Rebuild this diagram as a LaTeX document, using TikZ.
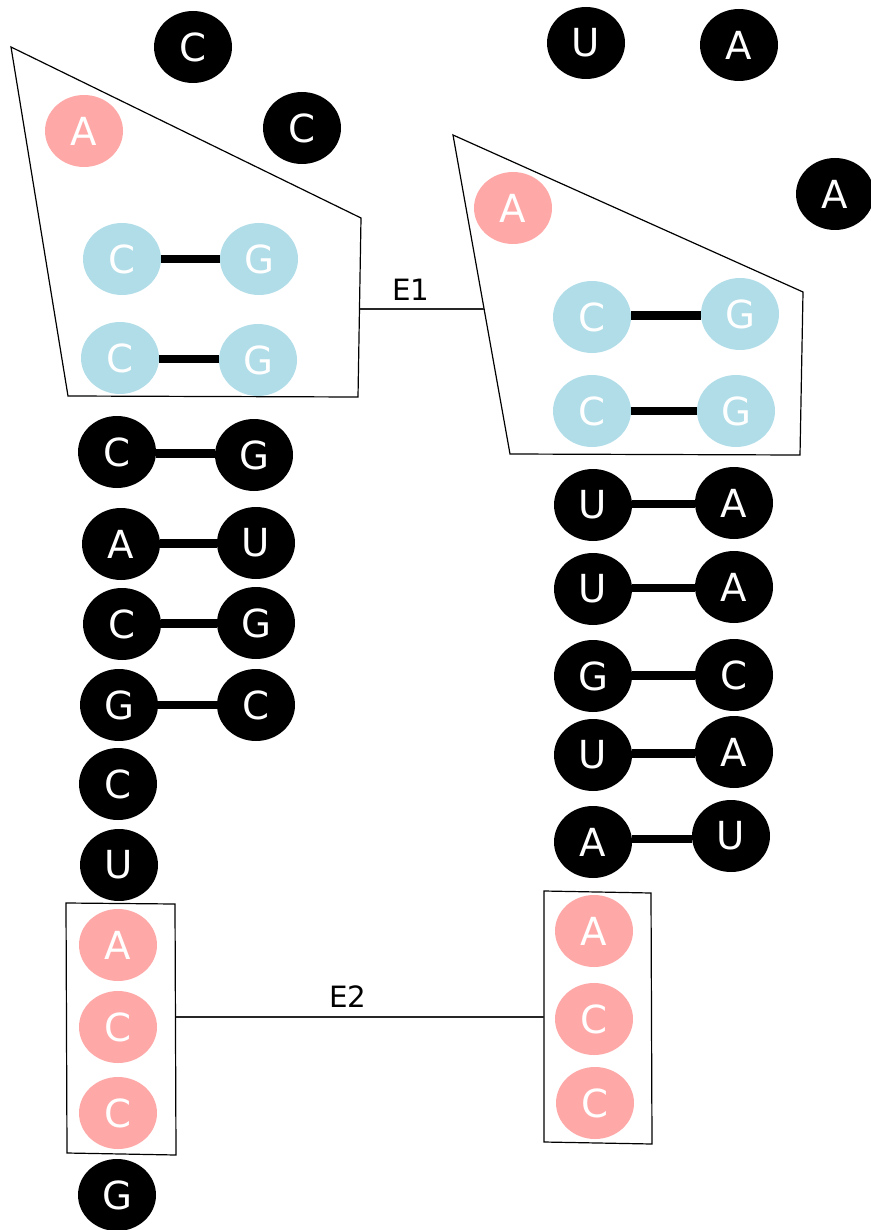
\documentclass[tikz,border=0pt]{standalone}
\usepackage{fontspec}
\setmainfont{DejaVu Sans}
\usetikzlibrary{shapes.geometric,calc}
\definecolor{pinkn}{RGB}{255,168,168}
\definecolor{bluen}{RGB}{176,221,232}
\tikzset{
  base/.style={ellipse, minimum width=58.5pt, minimum height=54pt, inner sep=0pt, text=white, font=\fontsize{29}{31}\selectfont},
  blk/.style={base, fill=black},
  pnk/.style={base, fill=pinkn},
  blu/.style={base, fill=bluen},
  bar/.style={line width=6.5pt},
  frame/.style={line width=0.9pt, line join=miter},
  link/.style={line width=0.8pt, draw=black!85},
  lab/.style={font=\fontsize{22}{24}\selectfont, text=black}
}
\newcommand\pairbar[2]{%
  \coordinate (pbm) at ($(#1)!0.5!(#2)$);
  \draw[bar] (#1.east |- pbm) -- (#2.west |- pbm);}
\begin{document}
\begin{tikzpicture}[x=0.75pt, y=-0.75pt]
\useasboundingbox (0,0) rectangle (870,1230);
% frames
\draw[frame] (11,47) -- (361,218) -- (358,397) -- (68,396) -- cycle;
\draw[frame] (453,135) -- (803,292) -- (800,455) -- (510,454) -- cycle;
\draw[frame] (66,903) -- (175,904) -- (176,1155) -- (67,1153) -- cycle;
\draw[frame] (544,891) -- (651,893) -- (652,1144) -- (544,1142) -- cycle;
% top free nodes
\node[blk] (c1) at (193,47) {C};
\node[blk] (c2) at (302,128) {C};
\node[pnk] (a1) at (84,131) {A};
\node[blk] (u1) at (586,43) {U};
\node[blk] (a2) at (739,45) {A};
\node[blk] (a3) at (835,194) {A};
% left frame pairs
\node[blu] (lc1) at (122,259) {C};
\node[blu] (lg1) at (259,259) {G};
\node[blu] (lc2) at (120,358) {C};
\node[blu] (lg2) at (258,360) {G};
\pairbar{lc1}{lg1}
\pairbar{lc2}{lg2}
% right frame
\node[pnk] (ra) at (513,208) {A};
\node[blu] (rc1) at (592,317) {C};
\node[blu] (rg1) at (740,314) {G};
\node[blu] (rc2) at (592,411) {C};
\node[blu] (rg2) at (736,411) {G};
\pairbar{rc1}{rg1}
\pairbar{rc2}{rg2}
% left stem
\node[blk] (s1l) at (117,452) {C};
\node[blk] (s1r) at (254,455) {G};
\node[blk] (s2l) at (121,544) {A};
\node[blk] (s2r) at (256,543) {U};
\node[blk] (s3l) at (122,624) {C};
\node[blk] (s3r) at (256,623) {G};
\node[blk] (s4l) at (119,705) {G};
\node[blk] (s4r) at (256,705) {C};
\pairbar{s1l}{s1r}
\pairbar{s2l}{s2r}
\pairbar{s3l}{s3r}
\pairbar{s4l}{s4r}
\node[blk] (s5) at (118,784) {C};
\node[blk] (s6) at (119,865) {U};
\node[pnk] (p1) at (118,945) {A};
\node[pnk] (p2) at (118,1027) {C};
\node[pnk] (p3) at (118,1113) {C};
\node[blk] (s7) at (117,1195) {G};
% right stem
\node[blk] (t1l) at (593,505) {U};
\node[blk] (t1r) at (734,503) {A};
\node[blk] (t2l) at (593,589) {U};
\node[blk] (t2r) at (734,587) {A};
\node[blk] (t3l) at (593,676) {G};
\node[blk] (t3r) at (734,675) {C};
\node[blk] (t4l) at (593,755) {U};
\node[blk] (t4r) at (734,752) {A};
\node[blk] (t5l) at (593,842) {A};
\node[blk] (t5r) at (731,836) {U};
\pairbar{t1l}{t1r}
\pairbar{t2l}{t2r}
\pairbar{t3l}{t3r}
\pairbar{t4l}{t4r}
\pairbar{t5l}{t5r}
\node[pnk] (q1) at (594,931) {A};
\node[pnk] (q2) at (594,1019) {C};
\node[pnk] (q3) at (595,1103) {C};
% links
\coordinate (e1a) at (360,309);
\coordinate (e1b) at (484,309);
\draw[link] (e1a) -- (e1b);
\node[lab] (E1) at (411,290) {E1};
\coordinate (e2a) at (176,1017);
\coordinate (e2b) at (544,1017);
\draw[link] (e2a) -- (e2b);
\node[lab] (E2) at (348,997) {E2};
\end{tikzpicture}
\end{document}
